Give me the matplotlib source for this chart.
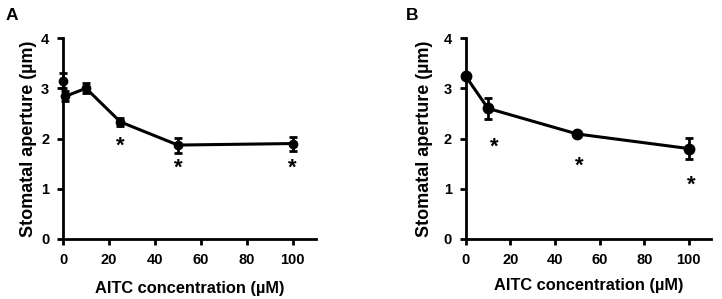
import matplotlib.pyplot as plt

plt.rcParams['font.family'] = ['Liberation Sans', 'DejaVu Sans']
plt.rcParams['font.weight'] = 'bold'

# panel A
A_X = [0, 1, 10, 25, 50, 100]
A_Y = [3.15, 2.84, 3.00, 2.33, 1.87, 1.90]
A_ERR = [0.15, 0.10, 0.10, 0.08, 0.15, 0.14]
A_STAR_X = [25, 50, 100]
A_STAR_Y = [1.85, 1.40, 1.40]

# panel B
B_X = [0, 10, 50, 100]
B_Y = [3.24, 2.60, 2.09, 1.80]
B_ERR = [0.05, 0.21, 0.03, 0.21]
B_STAR_X = [13, 51, 101]
B_STAR_Y = [1.82, 1.44, 1.08]


def panel(ax, x, y, err, sx, sy, letter, ms, lab_x, ylab_x, let_x):
    ax.errorbar(x, y, yerr=err, color="black", lw=2.2, marker="o", ms=ms,
                capsize=3, capthick=2, elinewidth=2, clip_on=False)
    for a, b in zip(sx, sy):
        ax.text(a, b, "*", ha="center", va="center", fontsize=16, fontweight="bold")
    ax.set_xlim(0, 110)
    ax.set_ylim(0, 4)
    ax.set_xticks(range(0, 101, 20))
    ax.set_yticks(range(0, 5))
    for s in ["top", "right"]:
        ax.spines[s].set_visible(False)
    for s in ["left", "bottom"]:
        ax.spines[s].set_linewidth(2)
    ax.tick_params(width=2, length=4, labelsize=10.5, pad=6)
    ax.set_xlabel("AITC concentration (µM)", fontsize=11.8, fontweight="bold")
    ax.set_ylabel("Stomatal aperture (µm)", fontsize=13, fontweight="bold")
    ax.xaxis.set_label_coords(0.5, lab_x)
    ax.xaxis.label.set_va("center")
    ax.yaxis.set_label_coords(ylab_x, 0.5)
    ax.yaxis.label.set_va("center")
    ax.text(let_x, 1.15, letter, transform=ax.transAxes, fontsize=12.5, fontweight="bold",
            ha="left", va="top")


fig = plt.figure(figsize=(7.22, 2.99), dpi=100)
axA = fig.add_axes([0.0873, 0.2007, 0.350, 0.672])
axB = fig.add_axes([0.645, 0.2007, 0.340, 0.672])
panel(axA, A_X, A_Y, A_ERR, A_STAR_X, A_STAR_Y, "A", 6, -0.244, -0.138, -0.229)
panel(axB, B_X, B_Y, B_ERR, B_STAR_X, B_STAR_Y, "B", 7.5, -0.229, -0.167, -0.245)
fig.savefig("out.png", dpi=100)
